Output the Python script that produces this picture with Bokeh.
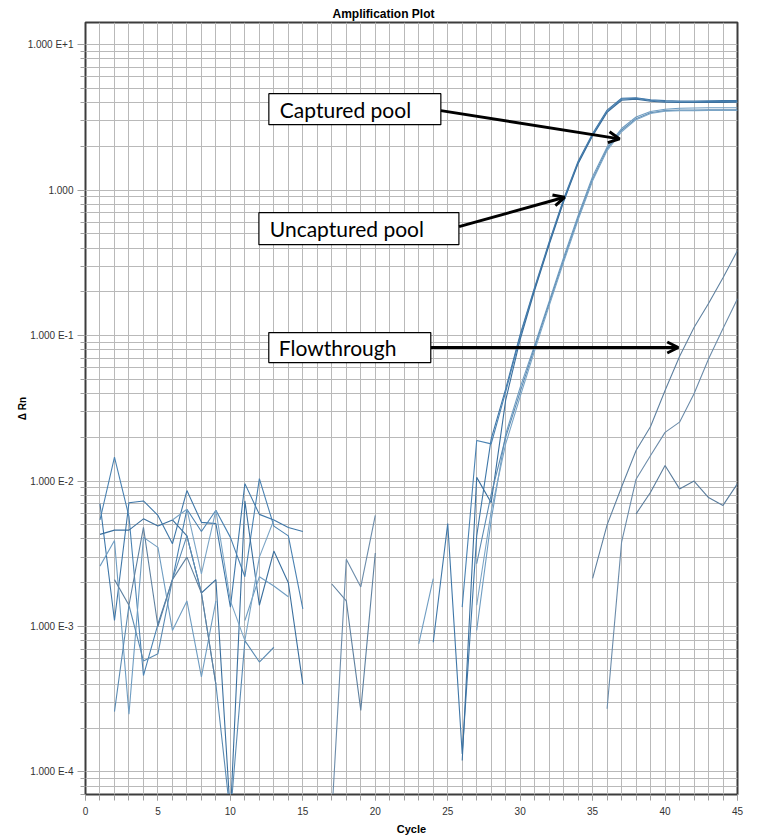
from bokeh.plotting import figure
from bokeh.models import Range1d, FixedTicker, Arrow, OpenHead, Title
from bokeh.embed import file_html
from bokeh.resources import INLINE
from bokeh.core.properties import value

nan = float("nan")

# ---------------- data ----------------
cycles = list(range(1, 46))

uncaptured_1 = [0.0070, 0.0011, 0.0071, 0.0073, 0.0058, 0.0037, 0.0086, 0.0052, 0.0051, 0.00136,
                0.0096, 0.0059, 0.0054, 0.0048, 0.0045, nan, nan, nan, nan, nan,
                nan, nan, nan, 0.00078, 0.0051, 0.000133, 0.0042, 0.0195, 0.043, 0.102,
                0.215, 0.44, 0.87, 1.58, 2.45, 3.55, 4.28, 4.32, 4.18, 4.12,
                4.10, 4.10, 4.11, 4.12, 4.13]
uncaptured_2 = [0.0054, 0.0146, 0.0057, 0.00046, 0.00104, 0.0021, 0.0064, 0.0045, 0.0063, 0.0041,
                0.0022, 0.0104, 0.0049, 0.0042, 0.00132, nan, nan, nan, nan, nan,
                nan, nan, nan, nan, nan, 0.00136, 0.019, 0.018, 0.041, 0.099,
                0.21, 0.43, 0.85, 1.55, 2.40, 3.48, 4.22, 4.28, 4.14, 4.07,
                4.05, 4.05, 4.06, 4.06, 4.07]
uncaptured_3 = [0.0043, 0.0046, 0.0046, 0.0055, 0.0049, 0.0054, 0.0042, 0.0017, 0.0021, 0.00005,
                0.0073, 0.0014, 0.0033, 0.0020, 0.0004, nan, nan, nan, nan, nan,
                nan, nan, nan, nan, nan, 0.00012, 0.0106, 0.0071, 0.036, 0.094,
                0.205, 0.42, 0.83, 1.52, 2.36, 3.42, 4.15, 4.22, 4.08, 4.02,
                4.00, 4.00, 4.01, 4.01, 4.02]
captured_1 = [0.0026, 0.0039, 0.00025, 0.0041, 0.0035, 0.00094, 0.0015, 0.00045, 0.0015, nan,
              0.0011, 0.0022, 0.0019, 0.0016, nan, nan, nan, nan, nan, nan,
              nan, nan, 0.00076, 0.00213, nan, nan, 0.00094, 0.0054, 0.021, 0.044,
              0.086, 0.172, 0.345, 0.67, 1.24, 1.98, 2.65, 3.18, 3.47, 3.60,
              3.65, 3.67, 3.68, 3.68, 3.68]
captured_2 = [nan, 0.00026, 0.0014, 0.00058, 0.00065, 0.0021, 0.0042, 0.0017, 0.0004, 0.00005,
              0.0008, 0.00057, 0.00072, nan, nan, nan, nan, nan, nan, nan,
              nan, nan, nan, nan, nan, nan, 0.0027, 0.0081, 0.020, 0.041,
              0.083, 0.166, 0.33, 0.645, 1.19, 1.92, 2.58, 3.10, 3.40, 3.52,
              3.55, 3.55, 3.56, 3.56, 3.56]
captured_3 = [nan, nan, nan, nan, nan, 0.0054, 0.0064, 0.0023, 0.0063, 0.0015,
              0.0008, 0.0030, 0.0054, nan, nan, nan, nan, nan, nan, nan,
              nan, nan, nan, nan, nan, nan, 0.0014, 0.0062, 0.018, 0.038,
              0.079, 0.16, 0.32, 0.625, 1.16, 1.87, 2.52, 3.05, 3.36, 3.49,
              3.52, 3.52, 3.53, 3.53, 3.53]
flowthrough_1 = [nan, 0.0021, 0.0014, 0.0048, 0.0010, 0.0021, 0.0030, 0.0017, 0.0004, nan,
                 nan, nan, nan, nan, nan, nan, 0.00196, 0.0015, 0.000265, 0.0032,
                 nan, nan, nan, nan, nan, nan, nan, nan, nan, nan,
                 nan, nan, nan, nan, 0.00214, 0.0050, 0.0091, 0.0162, 0.0237, 0.0419,
                 0.0718, 0.1135, 0.166, 0.25, 0.384]
flowthrough_2 = [nan, nan, nan, nan, nan, nan, nan, nan, nan, nan,
                 nan, nan, nan, nan, nan, nan, 0.00005, 0.0029, 0.00187, 0.0058,
                 nan, nan, nan, nan, nan, nan, nan, nan, nan, nan,
                 nan, nan, nan, nan, nan, 0.000272, 0.0038, 0.0103, 0.015, 0.0216,
                 0.0254, 0.0398, 0.069, 0.1117, 0.179]
flowthrough_3 = [nan, nan, nan, nan, nan, nan, nan, nan, nan, nan,
                 nan, nan, nan, nan, nan, nan, nan, nan, nan, nan,
                 nan, nan, nan, nan, nan, nan, nan, nan, nan, nan,
                 nan, nan, nan, nan, nan, nan, nan, 0.00595, 0.00837, 0.0128,
                 0.00883, 0.0100, 0.0077, 0.0068, 0.0096]

x_tick_values = [0, 5, 10, 15, 20, 25, 30, 35, 40, 45]
y_tick_values = [1e-4, 1e-3, 1e-2, 1e-1, 1.0, 10.0]
y_tick_labels = ["1.000 E-4", "1.000 E-3", "1.000 E-2", "1.000 E-1", "1.000", "1.000 E+1"]

callout_texts = ["Captured pool", "Uncaptured pool", "Flowthrough"]

# ---------------- figure ----------------
GRID = "#b9b9b9"
p = figure(width=777, height=840,
           x_range=Range1d(0, 45), y_range=Range1d(7.0e-5, 14.2),
           y_axis_type="log", output_backend="svg", toolbar_location=None,
           min_border_left=85, min_border_right=40, min_border_top=22, min_border_bottom=46,
           background_fill_color="white", border_fill_color="white")

p.title = Title(text="Amplification Plot", align="left", offset=247, standoff=4,
                text_font="Liberation Sans", text_font_size="12px", text_font_style="bold",
                text_color="black")

p.outline_line_color = "#3c3c3c"
p.outline_line_width = 2

xt = FixedTicker(ticks=x_tick_values, minor_ticks=list(range(0, 46)))
minor_y = [m * 10.0 ** e for e in range(-5, 2) for m in range(2, 10)]
yt = FixedTicker(ticks=y_tick_values, minor_ticks=minor_y)
p.xaxis.ticker = xt
p.yaxis.ticker = yt
p.xgrid.ticker = xt
p.ygrid.ticker = yt
p.yaxis.major_label_overrides = {v: s for v, s in zip(y_tick_values, y_tick_labels)}

for g in (p.xgrid, p.ygrid):
    g.grid_line_color = GRID
    g.minor_grid_line_color = GRID
    g.grid_line_width = 1
    g.minor_grid_line_width = 1

for ax in (p.xaxis, p.yaxis):
    ax.axis_line_color = "#3c3c3c"
    ax.major_tick_line_color = "#a0a0a0"
    ax.minor_tick_line_color = "#a0a0a0"
    ax.major_tick_in = 0
    ax.minor_tick_in = 0
    ax.major_label_text_font = "Liberation Sans"
    ax.major_label_text_font_size = "10px"
    ax.major_label_text_color = "#333333"
    ax.axis_label_text_font = "Liberation Sans"
    ax.axis_label_text_font_style = "bold"
    ax.axis_label_text_font_size = "11px"
    ax.axis_label_text_color = "black"

p.xaxis.major_tick_out = 6
p.xaxis.minor_tick_out = 6
p.xaxis.major_label_standoff = 6
p.xaxis.axis_label = "Cycle"
p.xaxis.axis_label_standoff = 5

p.yaxis.major_tick_out = 8
p.yaxis.minor_tick_out = 5
p.yaxis.major_label_standoff = 4
p.yaxis.axis_label = "Δ Rn"
p.yaxis.axis_label_standoff = -3
p.yaxis.axis_label_text_font_size = "10px"

# ---------------- data lines ----------------
series = [
    (uncaptured_1, "#3f77a8"), (uncaptured_2, "#4a82b2"), (uncaptured_3, "#3a6f9e"),
    (captured_1, "#6f9dc2"), (captured_2, "#5b8bb3"), (captured_3, "#7ba5c6"),
    (flowthrough_1, "#5f81a0"), (flowthrough_2, "#6c8caa"), (flowthrough_3, "#5a7c9c"),
]
for vals, col in series:
    p.line(cycles, vals, line_color=col, line_width=1.1)

# ---------------- callouts ----------------
box_x = [18.59, 18.87, 18.24]
box_y = [3.60, 0.5435, 0.0827]
box_w = [172, 200, 162]
box_h = [31, 32, 30]
text_x = [13.41, 12.72, 13.34]

p.rect(x=box_x, y=box_y, width=box_w, height=box_h, width_units="screen",
       height_units="screen", fill_color="white", line_color="black", line_width=1.2)
p.text(x=text_x, y=box_y, text=callout_texts, text_font=value("Lato"),
       text_font_size="21px", text_baseline="middle", text_align="left", text_color="black")

arrows = [((24.53, 3.52), (36.86, 2.25)),
          ((25.78, 0.561), (33.06, 0.893)),
          ((23.84, 0.0828), (40.91, 0.0828))]
for (x0, y0), (x1, y1) in arrows:
    p.add_layout(Arrow(end=OpenHead(size=11, line_width=3, line_color="black"),
                       x_start=x0, y_start=y0, x_end=x1, y_end=y1,
                       line_width=3, line_color="black"))

open("out.html", "w").write(file_html(p, INLINE))
